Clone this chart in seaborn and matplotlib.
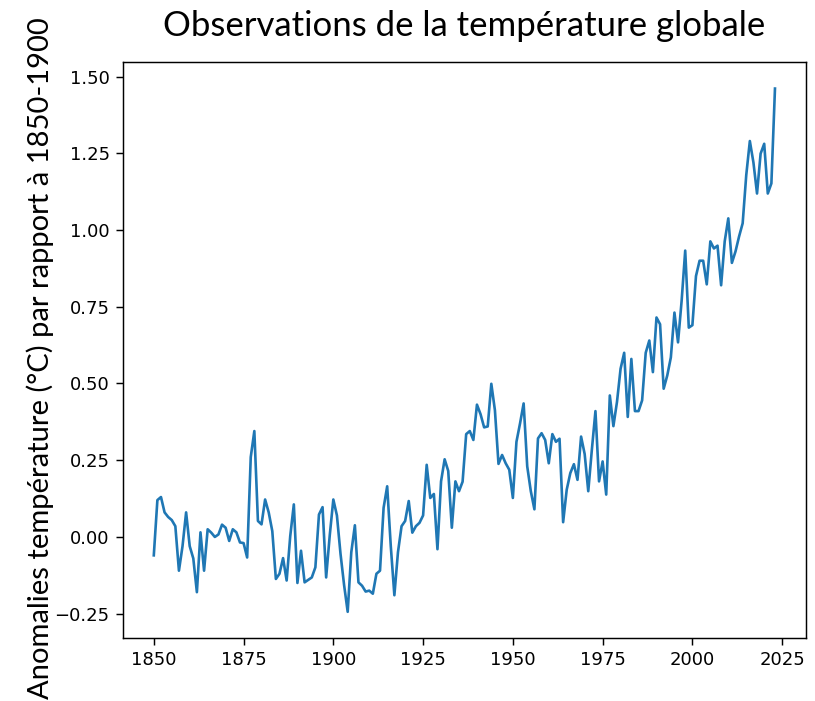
import matplotlib
matplotlib.use("Agg")
import matplotlib.pyplot as plt
import seaborn as sns
import pandas as pd
import numpy as np

title = "Observations de la température globale"
ylabel = "Anomalies température (°C) par rapport à 1850-1900"

years = list(range(1850, 2024))
anomalies = [
    -0.06, 0.12, 0.13, 0.08, 0.065, 0.055, 0.035, -0.11, -0.03, 0.08,      # 1850s
    -0.03, -0.07, -0.18, 0.015, -0.11, 0.025, 0.014, 0.0, 0.008, 0.04,     # 1860s
    0.03, -0.013, 0.025, 0.015, -0.018, -0.02, -0.067, 0.26, 0.345, 0.052, # 1870s
    0.041, 0.122, 0.08, 0.019, -0.137, -0.12, -0.069, -0.142, 0.003, 0.106,# 1880s
    -0.15, -0.045, -0.148, -0.14, -0.132, -0.099, 0.073, 0.097, -0.132, 0.005, # 1890s
    0.122, 0.07, -0.055, -0.157, -0.244, -0.05, 0.038, -0.148, -0.159, -0.178, # 1900s
    -0.175, -0.185, -0.12, -0.11, 0.095, 0.165, -0.03, -0.19, -0.05, 0.035,    # 1910s
    0.052, 0.117, 0.014, 0.035, 0.046, 0.07, 0.235, 0.127, 0.14, -0.04,        # 1920s
    0.181, 0.253, 0.215, 0.03, 0.181, 0.149, 0.18, 0.335, 0.345, 0.316,        # 1930s
    0.431, 0.40, 0.357, 0.36, 0.499, 0.413, 0.238, 0.267, 0.24, 0.219,         # 1940s
    0.127, 0.31, 0.37, 0.435, 0.23, 0.149, 0.09, 0.321, 0.338, 0.316,          # 1950s
    0.24, 0.335, 0.31, 0.32, 0.048, 0.154, 0.208, 0.237, 0.186, 0.327,         # 1960s
    0.27, 0.149, 0.284, 0.41, 0.181, 0.246, 0.138, 0.461, 0.361, 0.44,         # 1970s
    0.548, 0.60, 0.391, 0.58, 0.41, 0.41, 0.445, 0.60, 0.64, 0.537,            # 1980s
    0.715, 0.693, 0.483, 0.526, 0.585, 0.731, 0.634, 0.769, 0.933, 0.682,      # 1990s
    0.69, 0.85, 0.90, 0.90, 0.823, 0.963, 0.94, 0.949, 0.82, 0.963,            # 2000s
    1.038, 0.893, 0.93, 0.979, 1.022, 1.179, 1.29, 1.22, 1.119, 1.249,         # 2010s
    1.281, 1.119, 1.152, 1.461,                                                # 2020s
]

xticks = [1850, 1875, 1900, 1925, 1950, 1975, 2000, 2025]
yticks = [-0.25, 0.00, 0.25, 0.50, 0.75, 1.00, 1.25, 1.50]

df = pd.DataFrame({"year": years, "anomaly": anomalies})

plt.rcParams.update({
    "xtick.major.size": 4.8,
    "ytick.major.size": 4.8,
    "xtick.major.width": 1.05,
    "ytick.major.width": 1.05,
    "xtick.major.pad": 4.6,
    "ytick.major.pad": 4.6,
    "axes.linewidth": 1.05,
})

fig = plt.figure(figsize=(8.15, 7.01), dpi=100)
ax = fig.add_axes([0.1506, 0.0899, 0.989 - 0.1506, 0.911 - 0.0899])

sns.lineplot(data=df, x="year", y="anomaly", ax=ax, color="#1f77b4", linewidth=1.9)

ax.set_xticks(xticks)
ax.set_yticks(yticks)
ax.set_xticklabels([str(t) for t in xticks], fontsize=13)
ax.set_yticklabels([f"{t:.2f}".replace("-", "\u2212") for t in yticks], fontsize=13)
ax.set_xlabel("")
ax.set_ylabel(ylabel, fontfamily="Lato", fontsize=21)
ax.yaxis.set_label_coords(-0.101, 0.486)
ax.set_title(title, fontfamily="Lato", fontsize=25, pad=18.7)

fig.savefig("out.png", dpi=100)
